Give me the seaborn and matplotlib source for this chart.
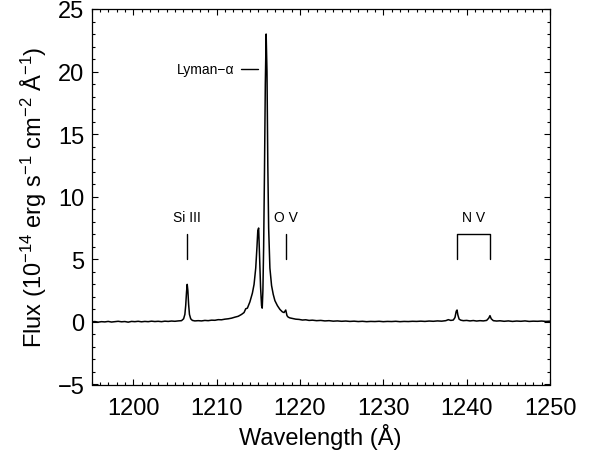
import numpy as np
import pandas as pd
import matplotlib
matplotlib.use("Agg")
import matplotlib.pyplot as plt
import seaborn as sns

# ---- data ----
wavelength = [
    1195.0, 1195.4, 1195.8, 1196.2, 1196.6, 1197.0, 1197.4, 1197.8, 1198.2, 1198.6,
    1199.0, 1199.4, 1199.8, 1200.2, 1200.6, 1201.0, 1201.4, 1201.8, 1202.2, 1202.6,
    1203.0, 1203.4, 1203.8, 1204.2, 1204.6, 1205.0, 1205.4, 1205.8, 1206.05, 1206.2,
    1206.3, 1206.4, 1206.48, 1206.56, 1206.65, 1206.75, 1206.9, 1207.1, 1207.4, 1207.8,
    1208.2, 1208.6, 1209.0, 1209.4, 1209.8, 1210.2, 1210.6, 1211.0, 1211.4, 1211.8,
    1212.2, 1212.6, 1213.0, 1213.3, 1213.5, 1213.7, 1214.0, 1214.3, 1214.5, 1214.7,
    1214.85, 1214.95, 1215.05, 1215.15, 1215.28, 1215.4, 1215.48, 1215.56, 1215.65, 1215.75,
    1215.85, 1215.95, 1216.05, 1216.15, 1216.25, 1216.4, 1216.6, 1216.8, 1217.0, 1217.3,
    1217.6, 1217.9, 1218.1, 1218.3, 1218.45, 1218.6, 1218.8, 1219.1, 1219.5, 1219.9,
    1220.3, 1220.7, 1221.1, 1221.5, 1222.0, 1222.5, 1223.0, 1223.5, 1224.0, 1224.5,
    1225.0, 1225.5, 1226.0, 1226.5, 1227.0, 1227.5, 1228.0, 1228.5, 1229.0, 1229.5,
    1230.0, 1230.5, 1231.0, 1231.5, 1232.0, 1232.5, 1233.0, 1233.5, 1234.0, 1234.5,
    1235.0, 1235.5, 1236.0, 1236.5, 1237.0, 1237.5, 1237.8, 1238.1, 1238.4, 1238.6,
    1238.75, 1238.85, 1238.95, 1239.1, 1239.3, 1239.6, 1240.0, 1240.4, 1240.8, 1241.2,
    1241.6, 1242.0, 1242.4, 1242.65, 1242.8, 1242.95, 1243.2, 1243.6, 1244.0, 1244.5,
    1245.0, 1245.5, 1246.0, 1246.5, 1247.0, 1247.5, 1248.0, 1248.5, 1249.0, 1249.5,
    1250.0,
]
flux = [
    0.00, 0.03, -0.02, 0.02, 0.00, 0.04, -0.01, 0.02, 0.05, 0.01,
    0.03, -0.02, 0.04, 0.02, 0.05, 0.01, 0.04, 0.02, 0.06, 0.03,
    0.05, 0.02, 0.06, 0.04, 0.07, 0.05, 0.08, 0.10, 0.25, 0.6,
    1.3, 2.4, 3.0, 2.5, 1.4, 0.6, 0.25, 0.12, 0.08, 0.10,
    0.08, 0.12, 0.10, 0.14, 0.13, 0.18, 0.17, 0.22, 0.25, 0.30,
    0.38, 0.45, 0.60, 0.75, 1.05, 1.10, 1.6, 2.3, 3.0, 4.3,
    6.0, 7.3, 7.5, 5.5, 2.8, 1.3, 1.1, 2.5, 6.0, 12.0,
    19.0, 23.0, 20.0, 12.5, 7.5, 4.3, 2.9, 2.2, 1.7, 1.3,
    1.0, 0.8, 0.75, 0.95, 0.5, 0.38, 0.32, 0.28, 0.22, 0.20,
    0.15, 0.17, 0.12, 0.14, 0.10, 0.12, 0.08, 0.10, 0.06, 0.08,
    0.05, 0.07, 0.04, 0.06, 0.03, 0.05, 0.02, 0.04, 0.03, 0.05,
    0.02, 0.04, 0.03, 0.05, 0.02, 0.04, 0.03, 0.05, 0.04, 0.06,
    0.04, 0.07, 0.05, 0.08, 0.06, 0.10, 0.18, 0.12, 0.15, 0.35,
    0.85, 0.95, 0.55, 0.22, 0.14, 0.10, 0.12, 0.08, 0.11, 0.07,
    0.10, 0.08, 0.12, 0.30, 0.50, 0.25, 0.10, 0.07, 0.09, 0.05,
    0.08, 0.04, 0.07, 0.05, 0.08, 0.04, 0.06, 0.05, 0.07, 0.04,
    0.06,
]

# line identifications
line_names = ["Si III", "O V"]
line_waves = [1206.5, 1218.35]
nv_name = "N V"
nv_waves = [1238.8, 1242.8]
lya_label = "Lyman\u2212\u03b1"

x_ticks = [1200, 1210, 1220, 1230, 1240, 1250]
y_ticks = [-5, 0, 5, 10, 15, 20, 25]
y_ticklabels = ["\u22125", "0", "5", "10", "15", "20", "25"]

# ---- style ----
sns.set_style("white")
plt.rcParams["font.family"] = ["Liberation Sans", "DejaVu Sans"]
plt.rcParams["mathtext.fontset"] = "custom"
plt.rcParams["mathtext.rm"] = "Liberation Sans"
plt.rcParams["mathtext.it"] = "Liberation Sans:italic"
for key in ["text.color", "axes.labelcolor", "xtick.color", "ytick.color", "axes.edgecolor"]:
    plt.rcParams[key] = "black"

fig = plt.figure(figsize=(5.92, 4.52), dpi=100)
ax = fig.add_axes([91.5 / 592, 1 - 385.5 / 452, (550 - 91.5) / 592, (385.5 - 10) / 452])

df = pd.DataFrame({"wavelength": wavelength, "flux": flux})
sns.lineplot(data=df, x="wavelength", y="flux", color="black", lw=1.1, ax=ax,
             estimator=None, sort=False)

ax.set_xlim(1195, 1250)
ax.set_ylim(-5, 25)
ax.set_xticks(x_ticks)
ax.set_yticks(y_ticks)
ax.set_yticklabels(y_ticklabels)
ax.xaxis.set_minor_locator(matplotlib.ticker.MultipleLocator(1))
ax.yaxis.set_minor_locator(matplotlib.ticker.MultipleLocator(1))
ax.tick_params(which="both", direction="in", top=True, right=True, bottom=True, left=True,
               color="black", labelcolor="black", width=0.8)
ax.tick_params(which="major", length=4.5, labelsize=17)
ax.tick_params(which="minor", length=2.3)
ax.tick_params(axis="x", which="major", pad=9)
ax.tick_params(axis="y", which="major", pad=5)
for s in ax.spines.values():
    s.set_color("black")
    s.set_linewidth(0.9)

ax.set_xlabel("Wavelength (\u00c5)", fontsize=17, labelpad=3)
ax.set_ylabel("Flux (10$\\mathregular{^{-14}}$ erg s$\\mathregular{^{-1}}$ cm$\\mathregular{^{-2}}$ "
              "\u00c5$\\mathregular{^{-1}}$)", fontsize=17, labelpad=6)

# annotations
for name, w in zip(line_names, line_waves):
    ax.plot([w, w], [5.0, 7.0], color="black", lw=1.0)
    ax.text(w, 8.4, name, ha="center", va="center", fontsize=10)
ax.plot([nv_waves[0], nv_waves[0], nv_waves[1], nv_waves[1]], [5.0, 7.05, 7.05, 5.0],
        color="black", lw=1.0)
ax.text(np.mean(nv_waves), 8.4, nv_name, ha="center", va="center", fontsize=10)
ax.plot([1212.9, 1215.0], [20.2, 20.2], color="black", lw=1.0)
ax.text(1212.1, 20.2, lya_label, ha="right", va="center", fontsize=10)

fig.savefig("out.png", dpi=100)
